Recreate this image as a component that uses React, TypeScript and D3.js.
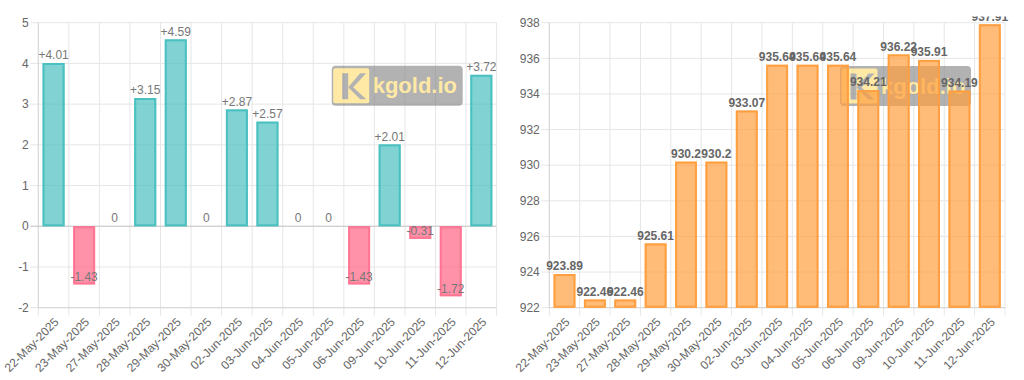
import React from "react";
import * as d3 from "d3";

const dates = [
  "22-May-2025", "23-May-2025", "27-May-2025", "28-May-2025", "29-May-2025",
  "30-May-2025", "02-Jun-2025", "03-Jun-2025", "04-Jun-2025", "05-Jun-2025",
  "06-Jun-2025", "09-Jun-2025", "10-Jun-2025", "11-Jun-2025", "12-Jun-2025",
];
const changes = [4.01, -1.43, 0, 3.15, 4.59, 0, 2.87, 2.57, 0, 0, -1.43, 2.01, -0.31, -1.72, 3.72];
const prices = [923.89, 922.46, 922.46, 925.61, 930.2, 930.2, 933.07, 935.64, 935.64, 935.64, 934.21, 936.22, 935.91, 934.19, 937.91];
const changeTicks = [-2, -1, 0, 1, 2, 3, 4, 5];
const priceTicks = [922, 924, 926, 928, 930, 932, 934, 936, 938];

const FONT = "'Helvetica Neue', Helvetica, Arial, 'Liberation Sans', sans-serif";
const TOP = 22.7;
const BOTTOM = 307.7;

type Style = { fill: string; stroke: string };

function Watermark({ x, y }: { x: number; y: number }) {
  const w = 131, h = 40;
  const sx = x + 1.5, sy = y + 2.5, ss = 36;
  return (
    <g opacity={0.6}>
      <rect x={x} y={y} width={w} height={h} rx={4} fill="#808080" />
      <rect x={sx} y={sy} width={ss} height={ss - 1} rx={2} fill="#ffdc6a" />
      <rect x={sx + 9} y={sy + 5} width={6} height={ss - 10} fill="#808080" />
      <polygon
        points={`${sx + 15},${sy + 19} ${sx + 27},${sy + 5} ${sx + 33},${sy + 5} ${sx + 20},${sy + 19} ${sx + 33},${sy + 31} ${sx + 27},${sy + 31}`}
        fill="#808080"
      />
      <text x={x + 41} y={y + 27.5} fontFamily={FONT} fontWeight="bold" fontSize={22} fill="#ffdc6a">
        kgold.io
      </text>
    </g>
  );
}

function BarChart(props: {
  left: number;
  right: number;
  values: number[];
  domain: [number, number];
  ticks: number[];
  styleFor: (v: number) => Style;
  fmt: (v: number) => string;
  bold: boolean;
  labelColor: string;
  zeroLine: boolean;
  wm: [number, number];
  id: string;
}) {
  const { left, right, values, domain, ticks, styleFor, fmt, bold, labelColor, zeroLine, wm, id } = props;
  const x = d3.scaleBand<string>().domain(dates).range([left, right]);
  const y = d3.scaleLinear().domain(domain).range([BOTTOM, TOP]);
  const bw = x.bandwidth() * 0.72;
  const baseVal = domain[0] > 0 ? domain[0] : 0;
  const y0 = y(baseVal);
  const grid = "#e6e6e6";
  return (
    <g>
      {ticks.map((t) => (
        <line key={"h" + t} x1={left - 8} x2={right} y1={y(t)} y2={y(t)} stroke={grid} strokeWidth={1} />
      ))}
      {dates.map((d, i) => (
        <line key={"v" + i} x1={(x(d) as number)} x2={(x(d) as number)} y1={TOP} y2={BOTTOM + 8} stroke={grid} strokeWidth={1} />
      ))}
      <line x1={right} x2={right} y1={TOP} y2={BOTTOM + 8} stroke={grid} />
      <line x1={left} x2={left} y1={TOP} y2={BOTTOM} stroke="#d6d6d6" />
      <line x1={left} x2={right} y1={BOTTOM} y2={BOTTOM} stroke="#d6d6d6" />
      {zeroLine && <line x1={left - 8} x2={right} y1={y(0)} y2={y(0)} stroke="#c8c8c8" />}
      <Watermark x={wm[0]} y={wm[1]} />
      {values.map((v, i) => {
        const cx = (x(dates[i]) as number) + x.bandwidth() / 2;
        const yv = y(v);
        const top = Math.min(yv, y0);
        const h = Math.abs(yv - y0);
        const s = styleFor(v);
        if (h < 0.5) return null;
        return (
          <g key={"b" + i}>
            <rect x={cx - bw / 2} y={top} width={bw} height={h} fill={s.fill} />
            <rect x={cx - bw / 2 + 1} y={top + 1} width={bw - 2} height={Math.max(0, h - 2)} fill="none" stroke={s.stroke} strokeWidth={2} />
          </g>
        );
      })}
      <clipPath id={id}>
        <rect x={left - 40} y={16.5} width={right - left + 80} height={400} />
      </clipPath>
      <g clipPath={`url(#${id})`}>
        {values.map((v, i) => {
          const cx = (x(dates[i]) as number) + x.bandwidth() / 2;
          const yv = y(v);
          return (
            <text
              key={"l" + i}
              x={cx}
              y={yv - 8}
              dy="0.35em"
              textAnchor="middle"
              fontFamily={FONT}
              fontSize={12}
              fontWeight={bold ? "bold" : "normal"}
              fill={labelColor}
            >
              {fmt(v)}
            </text>
          );
        })}
      </g>
      {ticks.map((t) => (
        <text key={"yt" + t} x={left - 9.5} y={y(t)} dy="0.35em" textAnchor="end" fontFamily={FONT} fontSize={12} fill="#666">
          {t}
        </text>
      ))}
      {dates.map((d, i) => {
        const cx = (x(d) as number) + x.bandwidth() / 2;
        return (
          <text
            key={"xt" + i}
            transform={`translate(${cx + 3},${BOTTOM + 12}) rotate(-45)`}
            dy="0.35em"
            textAnchor="end"
            fontFamily={FONT}
            fontSize={12}
            fill="#666"
          >
            {d}
          </text>
        );
      })}
    </g>
  );
}

export default function App() {
  return (
    <svg
      width={1024}
      height={380}
      style={{ position: "absolute", left: 0, top: 0, background: "#fff" }}
    >
      <rect width={1024} height={380} fill="#fff" />
      <BarChart
        id="c1"
        left={38.3}
        right={496.6}
        values={changes}
        domain={[-2, 5]}
        ticks={changeTicks}
        styleFor={(v) =>
          v >= 0
            ? { fill: "rgba(75,192,192,0.7)", stroke: "rgb(75,192,192)" }
            : { fill: "rgba(255,99,132,0.7)", stroke: "rgba(255,99,132,0.6)" }
        }
        fmt={(v) => (v > 0 ? "+" + v : String(v))}
        bold={false}
        labelColor="#777"
        zeroLine={true}
        wm={[331.7, 65.7]}
      />
      <BarChart
        id="c2"
        left={549.3}
        right={1005}
        values={prices}
        domain={[922, 938]}
        ticks={priceTicks}
        styleFor={() => ({ fill: "rgba(255,159,64,0.7)", stroke: "rgb(255,159,64)" })}
        fmt={(v) => String(v)}
        bold={true}
        labelColor="#666"
        zeroLine={false}
        wm={[840, 66]}
      />
    </svg>
  );
}
